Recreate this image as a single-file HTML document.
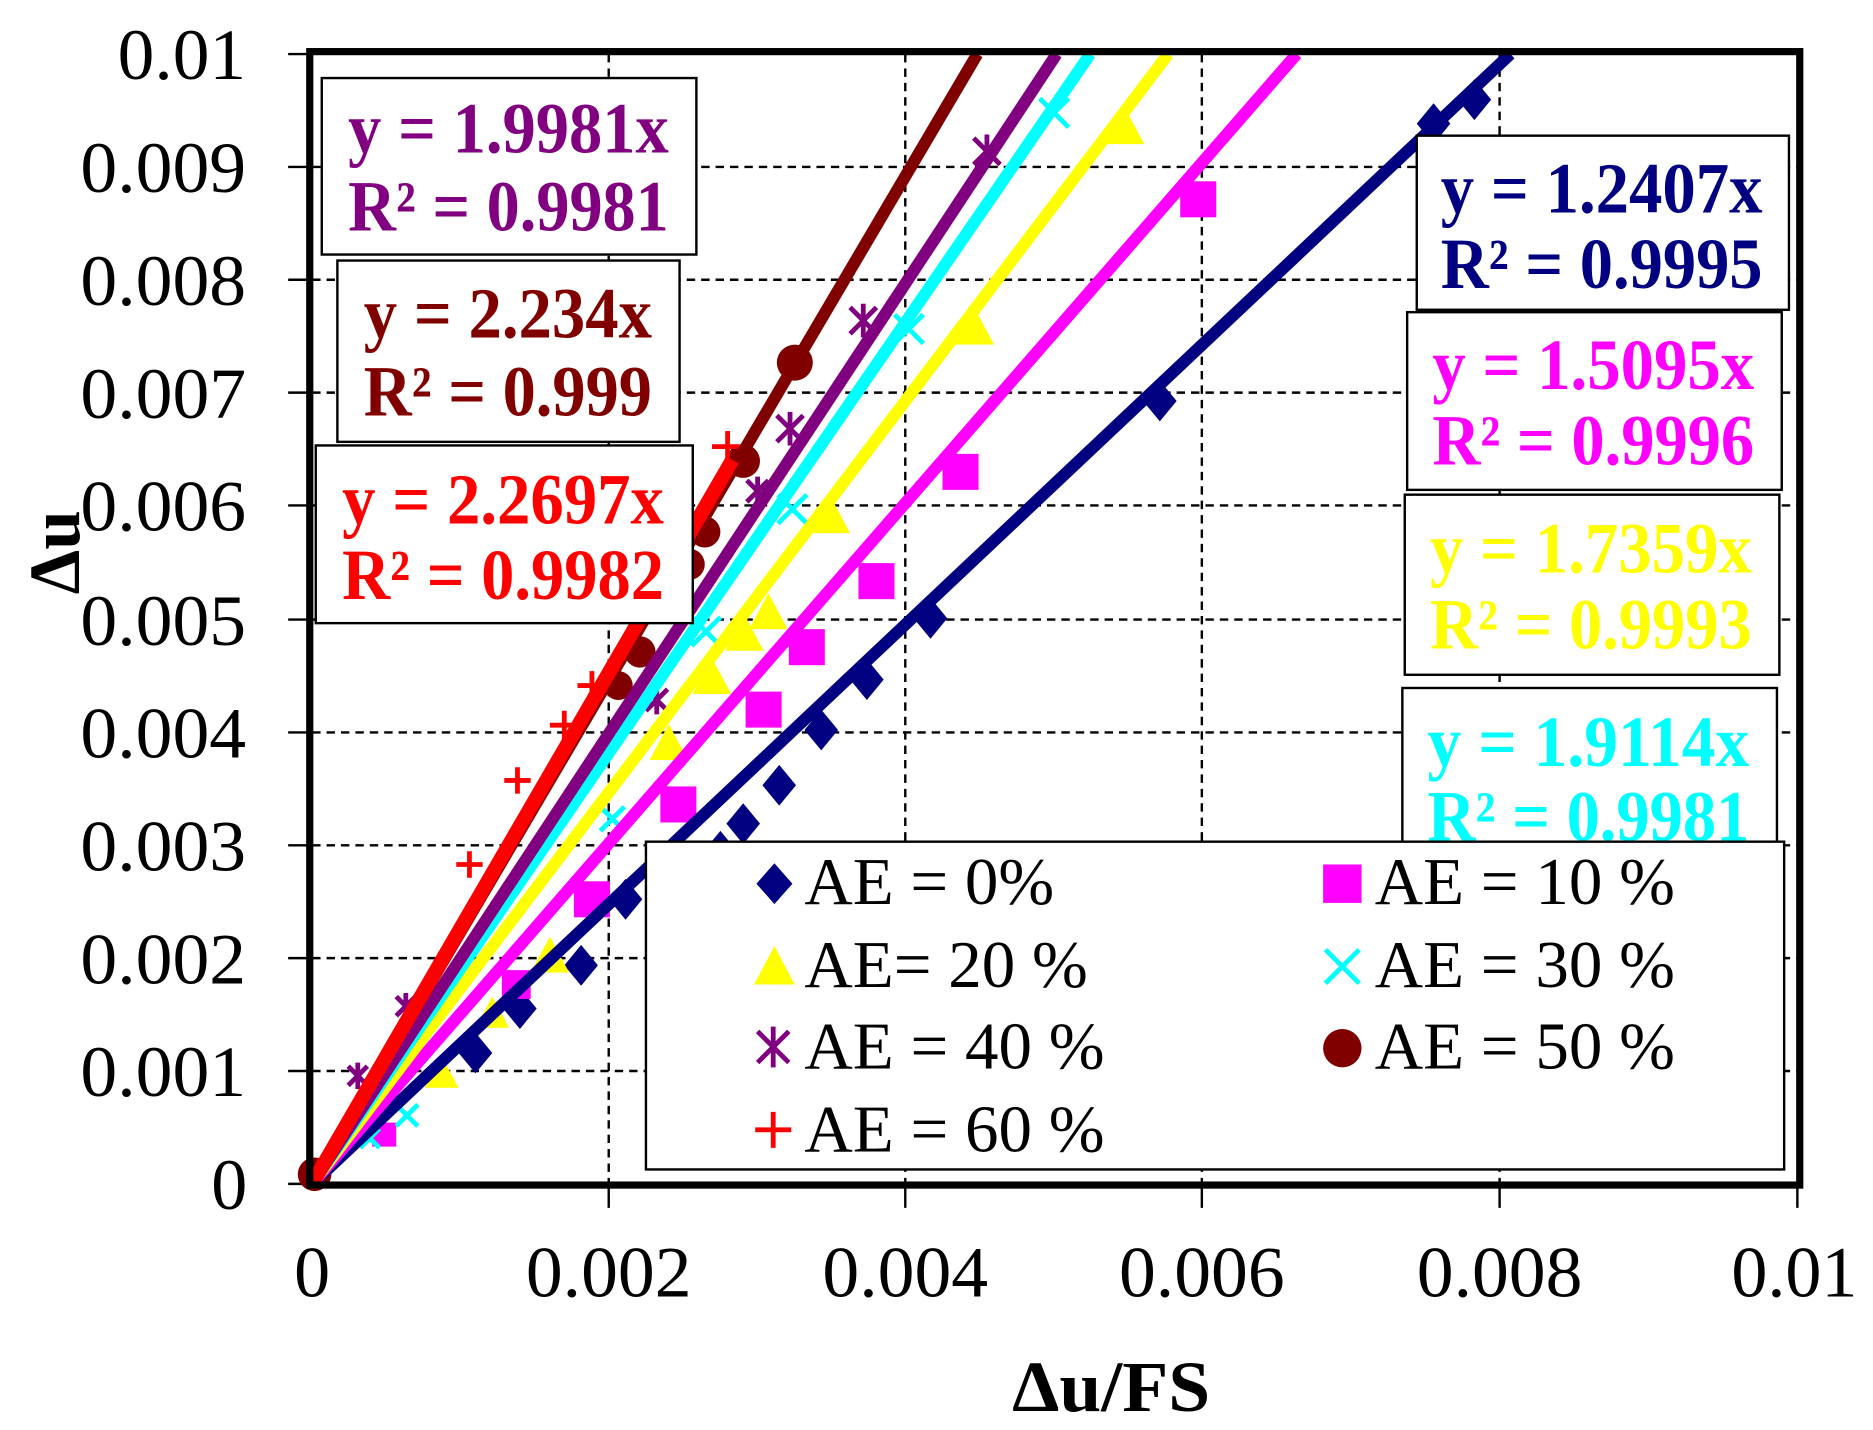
<!DOCTYPE html>
<html><head><meta charset="utf-8"><style>
html,body{margin:0;padding:0;background:#fff;}
svg{display:block;}
</style></head><body>
<svg width="1873" height="1430" viewBox="0 0 1560 1191" preserveAspectRatio="none" xmlns="http://www.w3.org/2000/svg" font-family="'Liberation Serif','Times New Roman',serif">
<rect width="1560" height="1191" fill="#fff"/>
<g stroke="#000" stroke-width="2" stroke-dasharray="7,5">
<line x1="507" y1="45" x2="507" y2="986"/><line x1="754" y1="45" x2="754" y2="986"/><line x1="1001" y1="45" x2="1001" y2="986"/><line x1="1249" y1="45" x2="1249" y2="986"/>
<line x1="260" y1="139" x2="1498" y2="139"/><line x1="260" y1="233" x2="1498" y2="233"/><line x1="260" y1="327" x2="1498" y2="327"/><line x1="260" y1="421" x2="1498" y2="421"/><line x1="260" y1="516" x2="1498" y2="516"/><line x1="260" y1="610" x2="1498" y2="610"/><line x1="260" y1="704" x2="1498" y2="704"/><line x1="260" y1="798" x2="1498" y2="798"/><line x1="260" y1="892" x2="1498" y2="892"/>
</g>
<g stroke="#000" stroke-width="2">
<line x1="240" y1="45" x2="260" y2="45"/><line x1="240" y1="139" x2="260" y2="139"/><line x1="240" y1="233" x2="260" y2="233"/><line x1="240" y1="327" x2="260" y2="327"/><line x1="240" y1="421" x2="260" y2="421"/><line x1="240" y1="516" x2="260" y2="516"/><line x1="240" y1="610" x2="260" y2="610"/><line x1="240" y1="704" x2="260" y2="704"/><line x1="240" y1="798" x2="260" y2="798"/><line x1="240" y1="892" x2="260" y2="892"/><line x1="240" y1="986" x2="260" y2="986"/>
<line x1="507" y1="986" x2="507" y2="1006"/><line x1="754" y1="986" x2="754" y2="1006"/><line x1="1001" y1="986" x2="1001" y2="1006"/><line x1="1249" y1="986" x2="1249" y2="1006"/><line x1="1497" y1="986" x2="1497" y2="1006"/>
</g>
<g fill="#000080">
<path d="M396 860l14 17-14 17-14-17z"/><path d="M433 823l14 17-14 17-14-17z"/><path d="M484 787l14 17-14 17-14-17z"/><path d="M521 732l14 17-14 17-14-17z"/><path d="M619 669l14 17-14 17-14-17z"/><path d="M649 637l14 17-14 17-14-17z"/><path d="M684 591l14 17-14 17-14-17z"/><path d="M722 549l14 17-14 17-14-17z"/><path d="M775 498l14 17-14 17-14-17z"/><path d="M966 317l14 17-14 17-14-17z"/><path d="M1194 86l14 17-14 17-14-17z"/><path d="M1228 66l14 17-14 17-14-17z"/><path d="M600 692l14 17-14 17-14-17z"/>
</g>
<g fill="#ff00ff">
<rect x="478" y="734" width="30" height="30"/><rect x="550" y="655" width="30" height="30"/><rect x="621" y="576" width="30" height="30"/><rect x="657" y="524" width="30" height="30"/><rect x="715" y="469" width="30" height="30"/><rect x="785" y="378" width="30" height="30"/><rect x="983" y="151" width="30" height="30"/><rect x="418" y="808" width="24" height="24"/><rect x="310" y="935" width="20" height="20"/>
</g>
<g fill="#ffff00">
<path d="M593 548l16 30h-32z"/><path d="M620 512l16 30h-32z"/><path d="M640 494l16 30h-32z"/><path d="M692 414l16 30h-32z"/><path d="M812 257l16 30h-32z"/><path d="M937 90l16 30h-32z"/><path d="M557 603l16 30h-32z"/><path d="M458 780l16 30h-32z"/><path d="M410 830l14 26h-28z"/><path d="M368 880l14 26h-28z"/>
</g>
<g stroke="#00ffff" stroke-width="4">
<path d="M866 82l24 24M890 82l-24 24"/><path d="M745 262l24 24M769 262l-24 24"/><path d="M648 412l24 24M672 412l-24 24"/><path d="M576 514l24 24M600 514l-24 24"/><path d="M500 672l20 20M520 672l-20 20"/><path d="M330 920l18 18M348 920l-18 18"/><path d="M300 940l16 16M316 940l-16 16"/>
</g>
<g stroke="#800080" stroke-width="4">
<path d="M811 115l22 22M833 115l-22 22M822 112v28"/><path d="M708 256l22 22M730 256l-22 22M719 253v28"/><path d="M647 346l22 22M669 346l-22 22M658 343v28"/><path d="M622 400l18 18M640 400l-18 18M631 397v24"/><path d="M538 574l18 18M556 574l-18 18M547 571v24"/><path d="M290 888l16 16M306 888l-16 16M298 885v22"/><path d="M330 830l16 16M346 830l-16 16M338 827v22"/>
</g>
<g fill="#800000">
<circle cx="662" cy="302" r="15"/><circle cx="619" cy="384" r="14"/><circle cx="587" cy="443" r="13"/><circle cx="574" cy="470" r="13"/><circle cx="533" cy="543" r="13"/><circle cx="515" cy="571" r="12"/><circle cx="262" cy="978" r="14"/>
</g>
<g stroke="#ff0000" stroke-width="4">
<path d="M593 372h26M606 359v26"/><path d="M481 571h24M493 559v24"/><path d="M458 604h24M470 592v24"/><path d="M420 650h22M431 639v22"/><path d="M380 720h22M391 709v22"/>
</g>
<g stroke-width="10" stroke-linecap="butt">
<line x1="260" y1="986" x2="1258" y2="45" stroke="#000080"/>
<line x1="260" y1="986" x2="1080" y2="45" stroke="#ff00ff"/>
<line x1="260" y1="986" x2="973" y2="45" stroke="#ffff00"/>
<line x1="260" y1="986" x2="908" y2="45" stroke="#00ffff"/>
<line x1="260" y1="986" x2="880" y2="45" stroke="#800080"/>
<line x1="260" y1="986" x2="814" y2="45" stroke="#800000"/>
<line x1="260" y1="986" x2="610" y2="383" stroke="#ff0000" stroke-width="12"/>
</g>
<rect x="258" y="43" width="1241" height="944" fill="none" stroke="#000" stroke-width="6"/>
<g stroke="#000" stroke-width="2" fill="#fff">
<rect x="268" y="65" width="312" height="147"/>
<rect x="281" y="217" width="285" height="151"/>
<rect x="263" y="371" width="314" height="148"/>
<rect x="1180" y="113" width="310" height="145"/>
<rect x="1172" y="260" width="312" height="148"/>
<rect x="1170" y="412" width="312" height="150"/>
<rect x="1168" y="573" width="312" height="160"/>
</g>
<g font-weight="bold" font-size="60">
<text x="290" y="127" fill="#800080" textLength="267" lengthAdjust="spacingAndGlyphs">y = 1.9981x</text>
<text x="290" y="192" fill="#800080" textLength="267" lengthAdjust="spacingAndGlyphs">R² = 0.9981</text>
<text x="303" y="281" fill="#800000" textLength="240" lengthAdjust="spacingAndGlyphs">y = 2.234x</text>
<text x="303" y="346" fill="#800000" textLength="240" lengthAdjust="spacingAndGlyphs">R² = 0.999</text>
<text x="285" y="436" fill="#ff0000" textLength="268" lengthAdjust="spacingAndGlyphs">y = 2.2697x</text>
<text x="285" y="499" fill="#ff0000" textLength="268" lengthAdjust="spacingAndGlyphs">R² = 0.9982</text>
<text x="1200" y="177" fill="#000080" textLength="268" lengthAdjust="spacingAndGlyphs">y = 1.2407x</text>
<text x="1200" y="240" fill="#000080" textLength="268" lengthAdjust="spacingAndGlyphs">R² = 0.9995</text>
<text x="1193" y="324" fill="#ff00ff" textLength="268" lengthAdjust="spacingAndGlyphs">y = 1.5095x</text>
<text x="1193" y="387" fill="#ff00ff" textLength="268" lengthAdjust="spacingAndGlyphs">R² = 0.9996</text>
<text x="1191" y="477" fill="#ffff00" textLength="268" lengthAdjust="spacingAndGlyphs">y = 1.7359x</text>
<text x="1191" y="540" fill="#ffff00" textLength="268" lengthAdjust="spacingAndGlyphs">R² = 0.9993</text>
<text x="1189" y="638" fill="#00ffff" textLength="268" lengthAdjust="spacingAndGlyphs">y = 1.9114x</text>
<text x="1189" y="700" fill="#00ffff" textLength="268" lengthAdjust="spacingAndGlyphs">R² = 0.9981</text>
</g>
<rect x="538" y="701" width="948" height="273" fill="#fff" stroke="#000" stroke-width="2"/>
<path d="M645 719l15 17-15 17-15-17z" fill="#000080"/>
<rect x="1102" y="720" width="32" height="32" fill="#ff00ff"/>
<path d="M645 788l17 32h-34z" fill="#ffff00"/>
<path d="M1104 791l28 28M1132 791l-28 28" stroke="#00ffff" stroke-width="4"/>
<path d="M631 859l26 26M657 859l-26 26M644 855v34" stroke="#800080" stroke-width="4"/>
<circle cx="1118" cy="873" r="16" fill="#800000"/>
<path d="M629 941h30M644 926v30" stroke="#ff0000" stroke-width="4"/>
<g font-size="56" fill="#000">
<text x="670" y="753" textLength="208" lengthAdjust="spacingAndGlyphs">AE = 0%</text>
<text x="1145" y="753" textLength="250" lengthAdjust="spacingAndGlyphs">AE = 10 %</text>
<text x="670" y="822" textLength="236" lengthAdjust="spacingAndGlyphs">AE= 20 %</text>
<text x="1145" y="822" textLength="250" lengthAdjust="spacingAndGlyphs">AE = 30 %</text>
<text x="670" y="890" textLength="250" lengthAdjust="spacingAndGlyphs">AE = 40 %</text>
<text x="1145" y="890" textLength="250" lengthAdjust="spacingAndGlyphs">AE = 50 %</text>
<text x="670" y="959" textLength="250" lengthAdjust="spacingAndGlyphs">AE = 60 %</text>
</g>
<g font-size="60" fill="#000">
<text x="98" y="66" textLength="107" lengthAdjust="spacingAndGlyphs">0.01</text>
<text x="67" y="160" textLength="138" lengthAdjust="spacingAndGlyphs">0.009</text>
<text x="67" y="254" textLength="138" lengthAdjust="spacingAndGlyphs">0.008</text>
<text x="67" y="348" textLength="138" lengthAdjust="spacingAndGlyphs">0.007</text>
<text x="67" y="442" textLength="138" lengthAdjust="spacingAndGlyphs">0.006</text>
<text x="67" y="537" textLength="138" lengthAdjust="spacingAndGlyphs">0.005</text>
<text x="67" y="631" textLength="138" lengthAdjust="spacingAndGlyphs">0.004</text>
<text x="67" y="725" textLength="138" lengthAdjust="spacingAndGlyphs">0.003</text>
<text x="67" y="819" textLength="138" lengthAdjust="spacingAndGlyphs">0.002</text>
<text x="67" y="913" textLength="138" lengthAdjust="spacingAndGlyphs">0.001</text>
<text x="176" y="1007" textLength="30" lengthAdjust="spacingAndGlyphs">0</text>
<text x="245" y="1080" textLength="30" lengthAdjust="spacingAndGlyphs">0</text>
<text x="438" y="1080" textLength="138" lengthAdjust="spacingAndGlyphs">0.002</text>
<text x="685" y="1080" textLength="138" lengthAdjust="spacingAndGlyphs">0.004</text>
<text x="932" y="1080" textLength="138" lengthAdjust="spacingAndGlyphs">0.006</text>
<text x="1180" y="1080" textLength="138" lengthAdjust="spacingAndGlyphs">0.008</text>
<text x="1442" y="1080" textLength="105" lengthAdjust="spacingAndGlyphs">0.01</text>
</g>
<text x="843" y="1175" font-size="60" font-weight="bold" textLength="165" lengthAdjust="spacingAndGlyphs">Δu/FS</text>
<text transform="translate(66,495) rotate(-90)" font-size="60" font-weight="bold" textLength="70" lengthAdjust="spacingAndGlyphs">Δu</text>
</svg>
</body></html>
